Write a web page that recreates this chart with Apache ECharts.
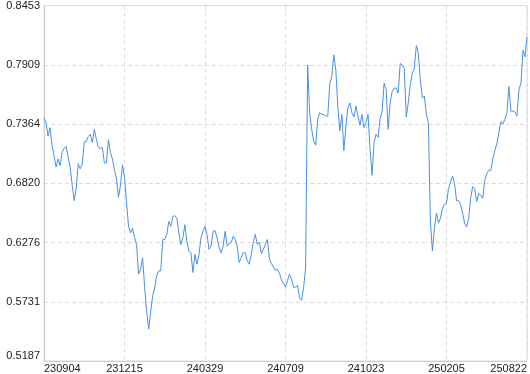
<!DOCTYPE html>
<html>
<head>
<meta charset="utf-8">
<script src="https://cdn.jsdelivr.net/npm/echarts@6/dist/echarts.min.js"></script>
<style>
  html, body { margin: 0; padding: 0; background: #fff; }
  #chart { width: 530px; height: 374px; }
</style>
</head>
<body>
<div id="chart"></div>
<script>
// Tick labels shown on the category axis (one every labelStep points, plus the last)
const xTickLabels = ['230904', '231215', '240329', '240709', '241023', '250205', '250822'];
const labelStep = 40;

// Y axis range / tick labels
const yMin = 0.5187;
const yMax = 0.8453;
const ySplits = 6;

// Series values
const values = [
  0.7421, 0.7376, 0.7255, 0.7331, 0.7164, 0.7074, 0.6968, 0.7043, 0.6983, 0.7104,
  0.7140, 0.7158, 0.7059, 0.6968, 0.6802, 0.6660, 0.6771, 0.6998, 0.6953, 0.6998,
  0.7201, 0.7204, 0.7249, 0.7270, 0.7195, 0.7316, 0.7225, 0.7149, 0.7140, 0.7149,
  0.7007, 0.7007, 0.7219, 0.7104, 0.7043, 0.6938, 0.6868, 0.6690, 0.6802, 0.6989,
  0.6877, 0.6650, 0.6424, 0.6363, 0.6408, 0.6318, 0.6257, 0.5985, 0.6030, 0.6136,
  0.5864, 0.5652, 0.5480, 0.5637, 0.5788, 0.5858, 0.5970, 0.6015, 0.6015, 0.6303,
  0.6303, 0.6348, 0.6469, 0.6424, 0.6514, 0.6523, 0.6499, 0.6363, 0.6257, 0.6318,
  0.6439, 0.6287, 0.6197, 0.6182, 0.6000, 0.6166, 0.6076, 0.6166, 0.6318, 0.6378,
  0.6424,
  0.6349, 0.6213, 0.6243, 0.6379, 0.6385, 0.6318, 0.6228, 0.6182, 0.6243, 0.6379,
  0.6243, 0.6264, 0.6273, 0.6333, 0.6303, 0.6243, 0.6092, 0.6137, 0.6182, 0.6182,
  0.6107, 0.6076, 0.6167, 0.6282, 0.6349, 0.6258, 0.6279, 0.6173, 0.6213, 0.6258,
  0.6303, 0.6122, 0.6083, 0.6052, 0.6022, 0.6031, 0.5992, 0.5931, 0.5901, 0.5865,
  0.5925, 0.5986, 0.5940, 0.5865, 0.5865, 0.5880, 0.5768, 0.5744, 0.5865, 0.6046,
  0.7906, 0.7467, 0.7316, 0.7210, 0.7170, 0.7407, 0.7467, 0.7452, 0.7452, 0.7437,
  0.7437, 0.7734, 0.7800, 0.8000, 0.7861, 0.7528, 0.7301, 0.7452, 0.7120, 0.7347,
  0.7513, 0.7558, 0.7467, 0.7428, 0.7528, 0.7437, 0.7353, 0.7452, 0.7331, 0.7377,
  0.7452, 0.7135, 0.6893, 0.7195, 0.7271, 0.7241, 0.7407, 0.7483, 0.7740, 0.7679,
  0.7316, 0.7558, 0.7664, 0.7694, 0.7694, 0.7649, 0.7921, 0.7906, 0.7876, 0.7428,
  0.7558, 0.7725, 0.7830, 0.7876, 0.8085, 0.8012, 0.7770, 0.7604, 0.7619, 0.7452,
  0.7377, 0.6470, 0.6197, 0.6409, 0.6545, 0.6454, 0.6500, 0.6591, 0.6627, 0.6636,
  0.6772, 0.6832, 0.6887, 0.6817, 0.6660, 0.6660, 0.6627, 0.6545, 0.6454, 0.6418,
  0.6500, 0.6681, 0.6787, 0.6772, 0.6651, 0.6727, 0.6711, 0.6681, 0.6848, 0.6908,
  0.6938, 0.6938, 0.7044, 0.7120, 0.7180, 0.7286, 0.7386, 0.7362, 0.7407, 0.7467,
  0.7709, 0.7483, 0.7483, 0.7474, 0.7437, 0.7679, 0.7740, 0.8042, 0.7982, 0.8163
];

const categories = values.map((_, i) => String(i));
const lastIdx = values.length - 1;
const showIdx = (i) => i % labelStep === 0 || i === lastIdx;

const chart = echarts.init(document.getElementById('chart'), null, { renderer: 'canvas' });
const fontFamily = '"Liberation Sans", Arial, sans-serif';

chart.setOption({
  animation: false,
  grid: {
    left: 44, right: 2, top: 1, bottom: 13,
    show: true, borderColor: '#dcdcdc', borderWidth: 1, backgroundColor: 'transparent'
  },
  xAxis: {
    type: 'category',
    data: categories,
    boundaryGap: false,
    axisLine: { show: true, lineStyle: { color: '#cfcfcf' } },
    axisTick: { show: false },
    axisLabel: {
      interval: (i) => showIdx(i),
      showMaxLabel: true,
      formatter: (v, i) => i === lastIdx ? xTickLabels[xTickLabels.length - 1] : xTickLabels[Math.round(i / labelStep)],
      color: '#222',
      fontSize: 11,
      fontFamily: fontFamily,
      margin: 2,
      alignMinLabel: 'left',
      alignMaxLabel: 'right'
    },
    splitLine: {
      show: true,
      interval: (i) => showIdx(i),
      lineStyle: { color: '#dcdcdc', type: [4, 3] }
    }
  },
  yAxis: {
    type: 'value',
    min: yMin,
    max: yMax,
    interval: (yMax - yMin) / ySplits,
    axisLine: { show: true, lineStyle: { color: '#cfcfcf' } },
    axisTick: { show: false },
    axisLabel: {
      formatter: (v) => v.toFixed(4),
      color: '#222',
      fontSize: 11,
      fontFamily: fontFamily,
      margin: 4,
      padding: [4, 0, 0, 0],
      verticalAlignMinLabel: 'bottom'
    },
    splitLine: { show: true, lineStyle: { color: '#dcdcdc', type: [4, 3] } }
  },
  series: [{
    type: 'line',
    data: values,
    showSymbol: false,
    symbol: 'none',
    lineStyle: { color: '#4a90e2', width: 1 },
    itemStyle: { color: '#4a90e2' }
  }]
});
</script>
</body>
</html>
